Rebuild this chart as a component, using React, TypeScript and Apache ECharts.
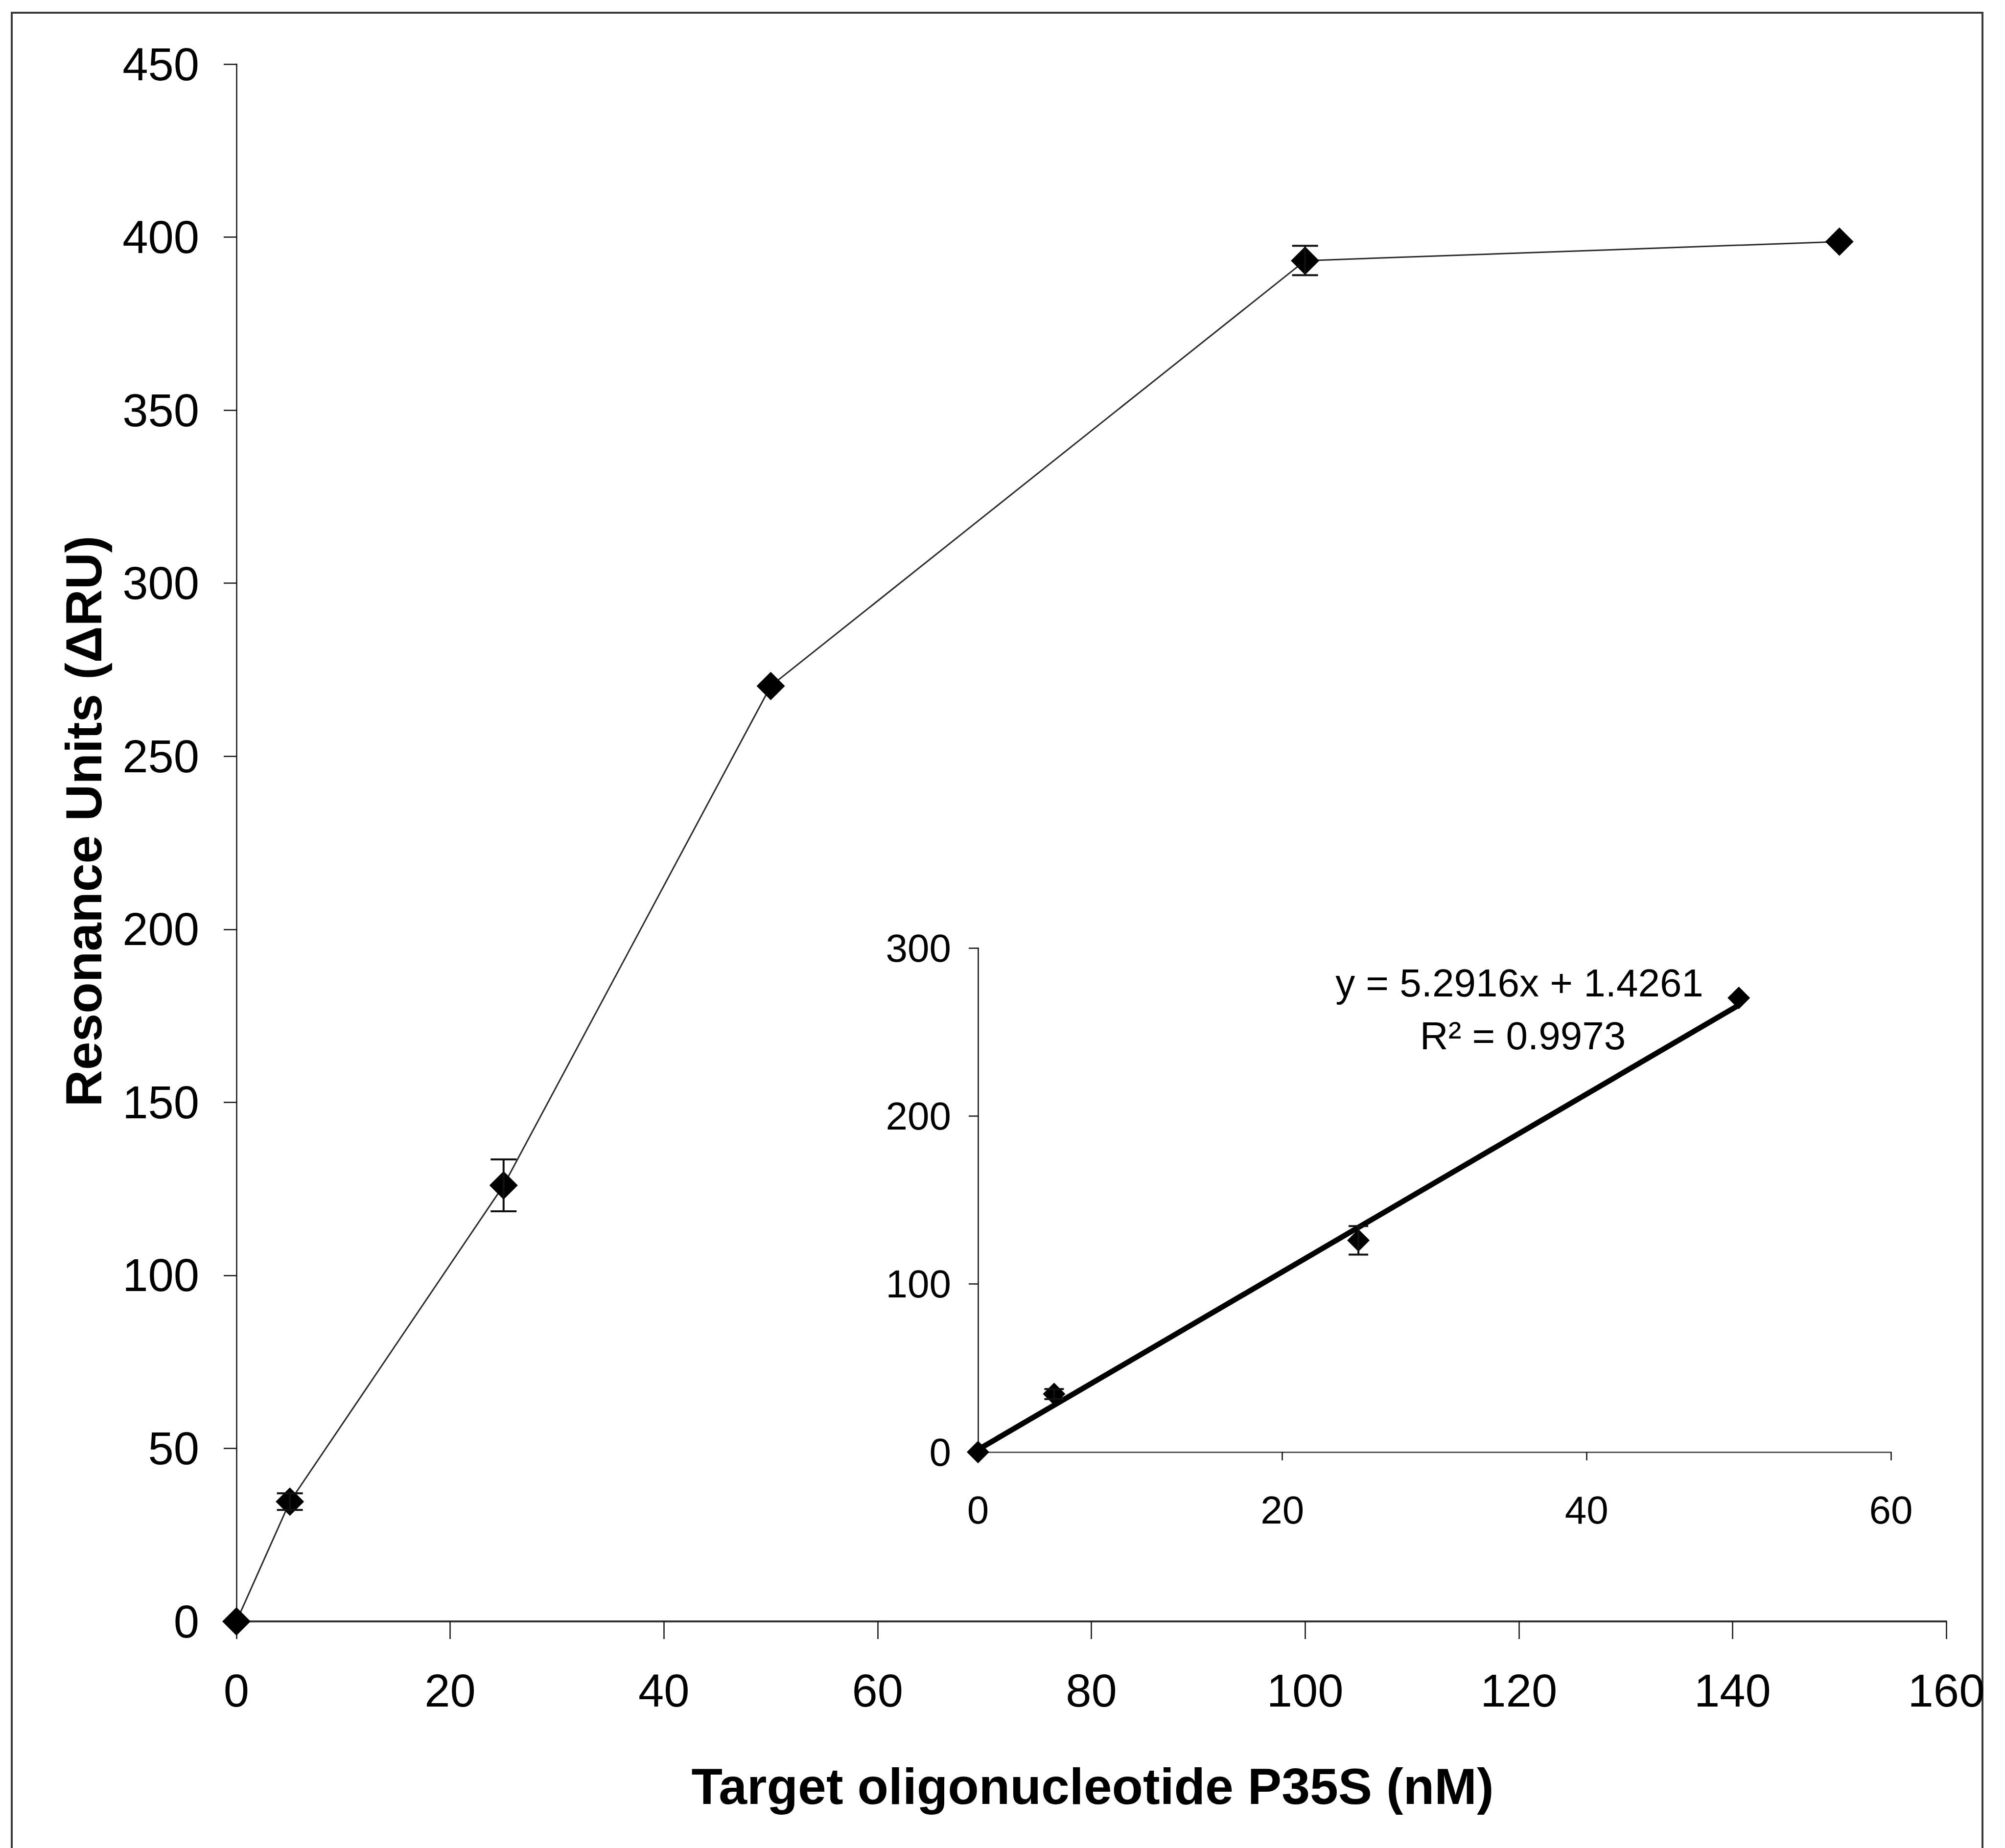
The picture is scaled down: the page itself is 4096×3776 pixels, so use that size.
import React, { useEffect, useRef } from "react";
import * as echarts from "echarts";

// Main curve
const concentrations = [0, 5, 25, 50, 100, 150];
const responseRU = [0, 34.6, 126, 270.3, 393.2, 398.7];
const errorX = [5, 25, 100];
const errorLow = [32.2, 118.5, 389];
const errorHigh = [37, 133.5, 397.5];

// Inset (linear range)
const insetConc = [0, 5, 25, 50];
const insetRU = [0, 34.6, 126, 270.3];
const insetErrX = [5, 25];
const insetErrLow = [31.5, 117.5];
const insetErrHigh = [37.5, 134.5];
const trendX = [0, 50];
const trendY = [1.4261, 266.0061];
const equationText = "y = 5.2916x + 1.4261";
const r2Text = "R² = 0.9973";

const xTitle = "Target oligonucleotide P35S (nM)";
const yTitle = "Resonance Units (ΔRU)";

const FONT = "'Liberation Sans', Arial, Helvetica, sans-serif";

function errorSeries(xs: number[], lo: number[], hi: number[], gi: number, capW: number, lw: number) {
  return {
    type: "custom",
    xAxisIndex: gi,
    yAxisIndex: gi,
    z: 4,
    silent: true,
    data: xs.map((x, i) => [x, lo[i], hi[i]]),
    encode: { x: 0, y: [1, 2] },
    renderItem: (params: any, api: any) => {
      const x = api.value(0);
      const a = api.coord([x, api.value(1)]);
      const b = api.coord([x, api.value(2)]);
      const st = { stroke: "#111", lineWidth: lw };
      return {
        type: "group",
        children: [
          { type: "line", shape: { x1: a[0], y1: a[1], x2: b[0], y2: b[1] }, style: st },
          { type: "line", shape: { x1: a[0] - capW / 2, y1: a[1], x2: a[0] + capW / 2, y2: a[1] }, style: st },
          { type: "line", shape: { x1: b[0] - capW / 2, y1: b[1], x2: b[0] + capW / 2, y2: b[1] }, style: st },
        ],
      };
    },
  };
}

export default function App() {
  const ref = useRef<HTMLDivElement>(null);
  useEffect(() => {
    document.body.style.margin = "0";
    const chart = echarts.init(ref.current!, undefined, { renderer: "svg" });
    const option: any = {
      animation: false,
      backgroundColor: "#ffffff",
      textStyle: { fontFamily: FONT },
      grid: [
        { left: 483, right: 120, top: 131, bottom: 463 },
        { left: 1998, right: 233, top: 1937, bottom: 809 },
      ],
      xAxis: [
        {
          gridIndex: 0,
          type: "value",
          min: 0,
          max: 160,
          interval: 20,
          splitLine: { show: false },
          axisLine: { show: true, onZero: false, lineStyle: { color: "#333", width: 4 } },
          axisTick: { show: true, inside: false, length: 36, lineStyle: { color: "#111", width: 2.5 } },
          axisLabel: { color: "#000", fontSize: 94, margin: 94, fontFamily: FONT },
        },
        {
          gridIndex: 1,
          type: "value",
          min: 0,
          max: 60,
          interval: 20,
          splitLine: { show: false },
          axisLine: { show: true, onZero: false, lineStyle: { color: "#555", width: 3 } },
          axisTick: { show: true, inside: false, length: 17, lineStyle: { color: "#111", width: 2.5 } },
          axisLabel: { color: "#000", fontSize: 80, margin: 78, fontFamily: FONT },
        },
      ],
      yAxis: [
        {
          gridIndex: 0,
          type: "value",
          min: 0,
          max: 450,
          interval: 50,
          splitLine: { show: false },
          axisLine: { show: true, onZero: false, lineStyle: { color: "#111", width: 2.5 } },
          axisTick: { show: true, inside: false, length: 26, lineStyle: { color: "#111", width: 2.5 } },
          axisLabel: { color: "#000", fontSize: 94, margin: 76, fontFamily: FONT },
        },
        {
          gridIndex: 1,
          type: "value",
          min: 0,
          max: 300,
          interval: 100,
          splitLine: { show: false },
          axisLine: { show: true, onZero: false, lineStyle: { color: "#111", width: 2.5 } },
          axisTick: { show: true, inside: false, length: 19, lineStyle: { color: "#111", width: 2.5 } },
          axisLabel: { color: "#000", fontSize: 80, margin: 55, fontFamily: FONT },
        },
      ],
      series: [
        {
          type: "line",
          xAxisIndex: 0,
          yAxisIndex: 0,
          data: concentrations.map((x, i) => [x, responseRU[i]]),
          symbol: "diamond",
          symbolSize: 58,
          lineStyle: { color: "#2a2a2a", width: 3 },
          itemStyle: { color: "#000", opacity: 1 },
          z: 3,
        },
        errorSeries(errorX, errorLow, errorHigh, 0, 53, 4),
        {
          type: "line",
          xAxisIndex: 1,
          yAxisIndex: 1,
          data: trendX.map((x, i) => [x, trendY[i]]),
          symbol: "none",
          lineStyle: { color: "#000", width: 11 },
          z: 2,
        },
        {
          type: "scatter",
          xAxisIndex: 1,
          yAxisIndex: 1,
          data: insetConc.map((x, i) => [x, insetRU[i]]),
          symbol: "diamond",
          symbolSize: 46,
          itemStyle: { color: "#000", opacity: 1 },
          z: 3,
        },
        errorSeries(insetErrX, insetErrLow, insetErrHigh, 1, 40, 4),
      ],
      graphic: [
        {
          type: "rect",
          z: -10,
          shape: { x: 24, y: 26, width: 4026, height: 3800 },
          style: { fill: "none", stroke: "#3a3a3a", lineWidth: 4 },
        },
        {
          type: "text",
          x: 171,
          y: 1678,
          rotation: Math.PI / 2,
          style: {
            text: yTitle,
            font: `bold 104px ${FONT}`,
            fill: "#000",
            align: "center",
            verticalAlign: "middle",
          },
        },
        {
          type: "text",
          x: 2232,
          y: 3650,
          style: {
            text: xTitle,
            font: `bold 104px ${FONT}`,
            fill: "#000",
            align: "center",
            verticalAlign: "middle",
          },
        },
        {
          type: "text",
          x: 3104,
          y: 2008,
          style: {
            text: equationText,
            font: `80px ${FONT}`,
            fill: "#000",
            align: "center",
            verticalAlign: "middle",
          },
        },
        {
          type: "text",
          x: 3111,
          y: 2116,
          style: {
            text: r2Text,
            font: `80px ${FONT}`,
            fill: "#000",
            align: "center",
            verticalAlign: "middle",
          },
        },
      ],
    };
    chart.setOption(option);
    return () => chart.dispose();
  }, []);
  return <div ref={ref} style={{ position: "absolute", left: 0, top: 0, width: 4096, height: 3776 }} />;
}
